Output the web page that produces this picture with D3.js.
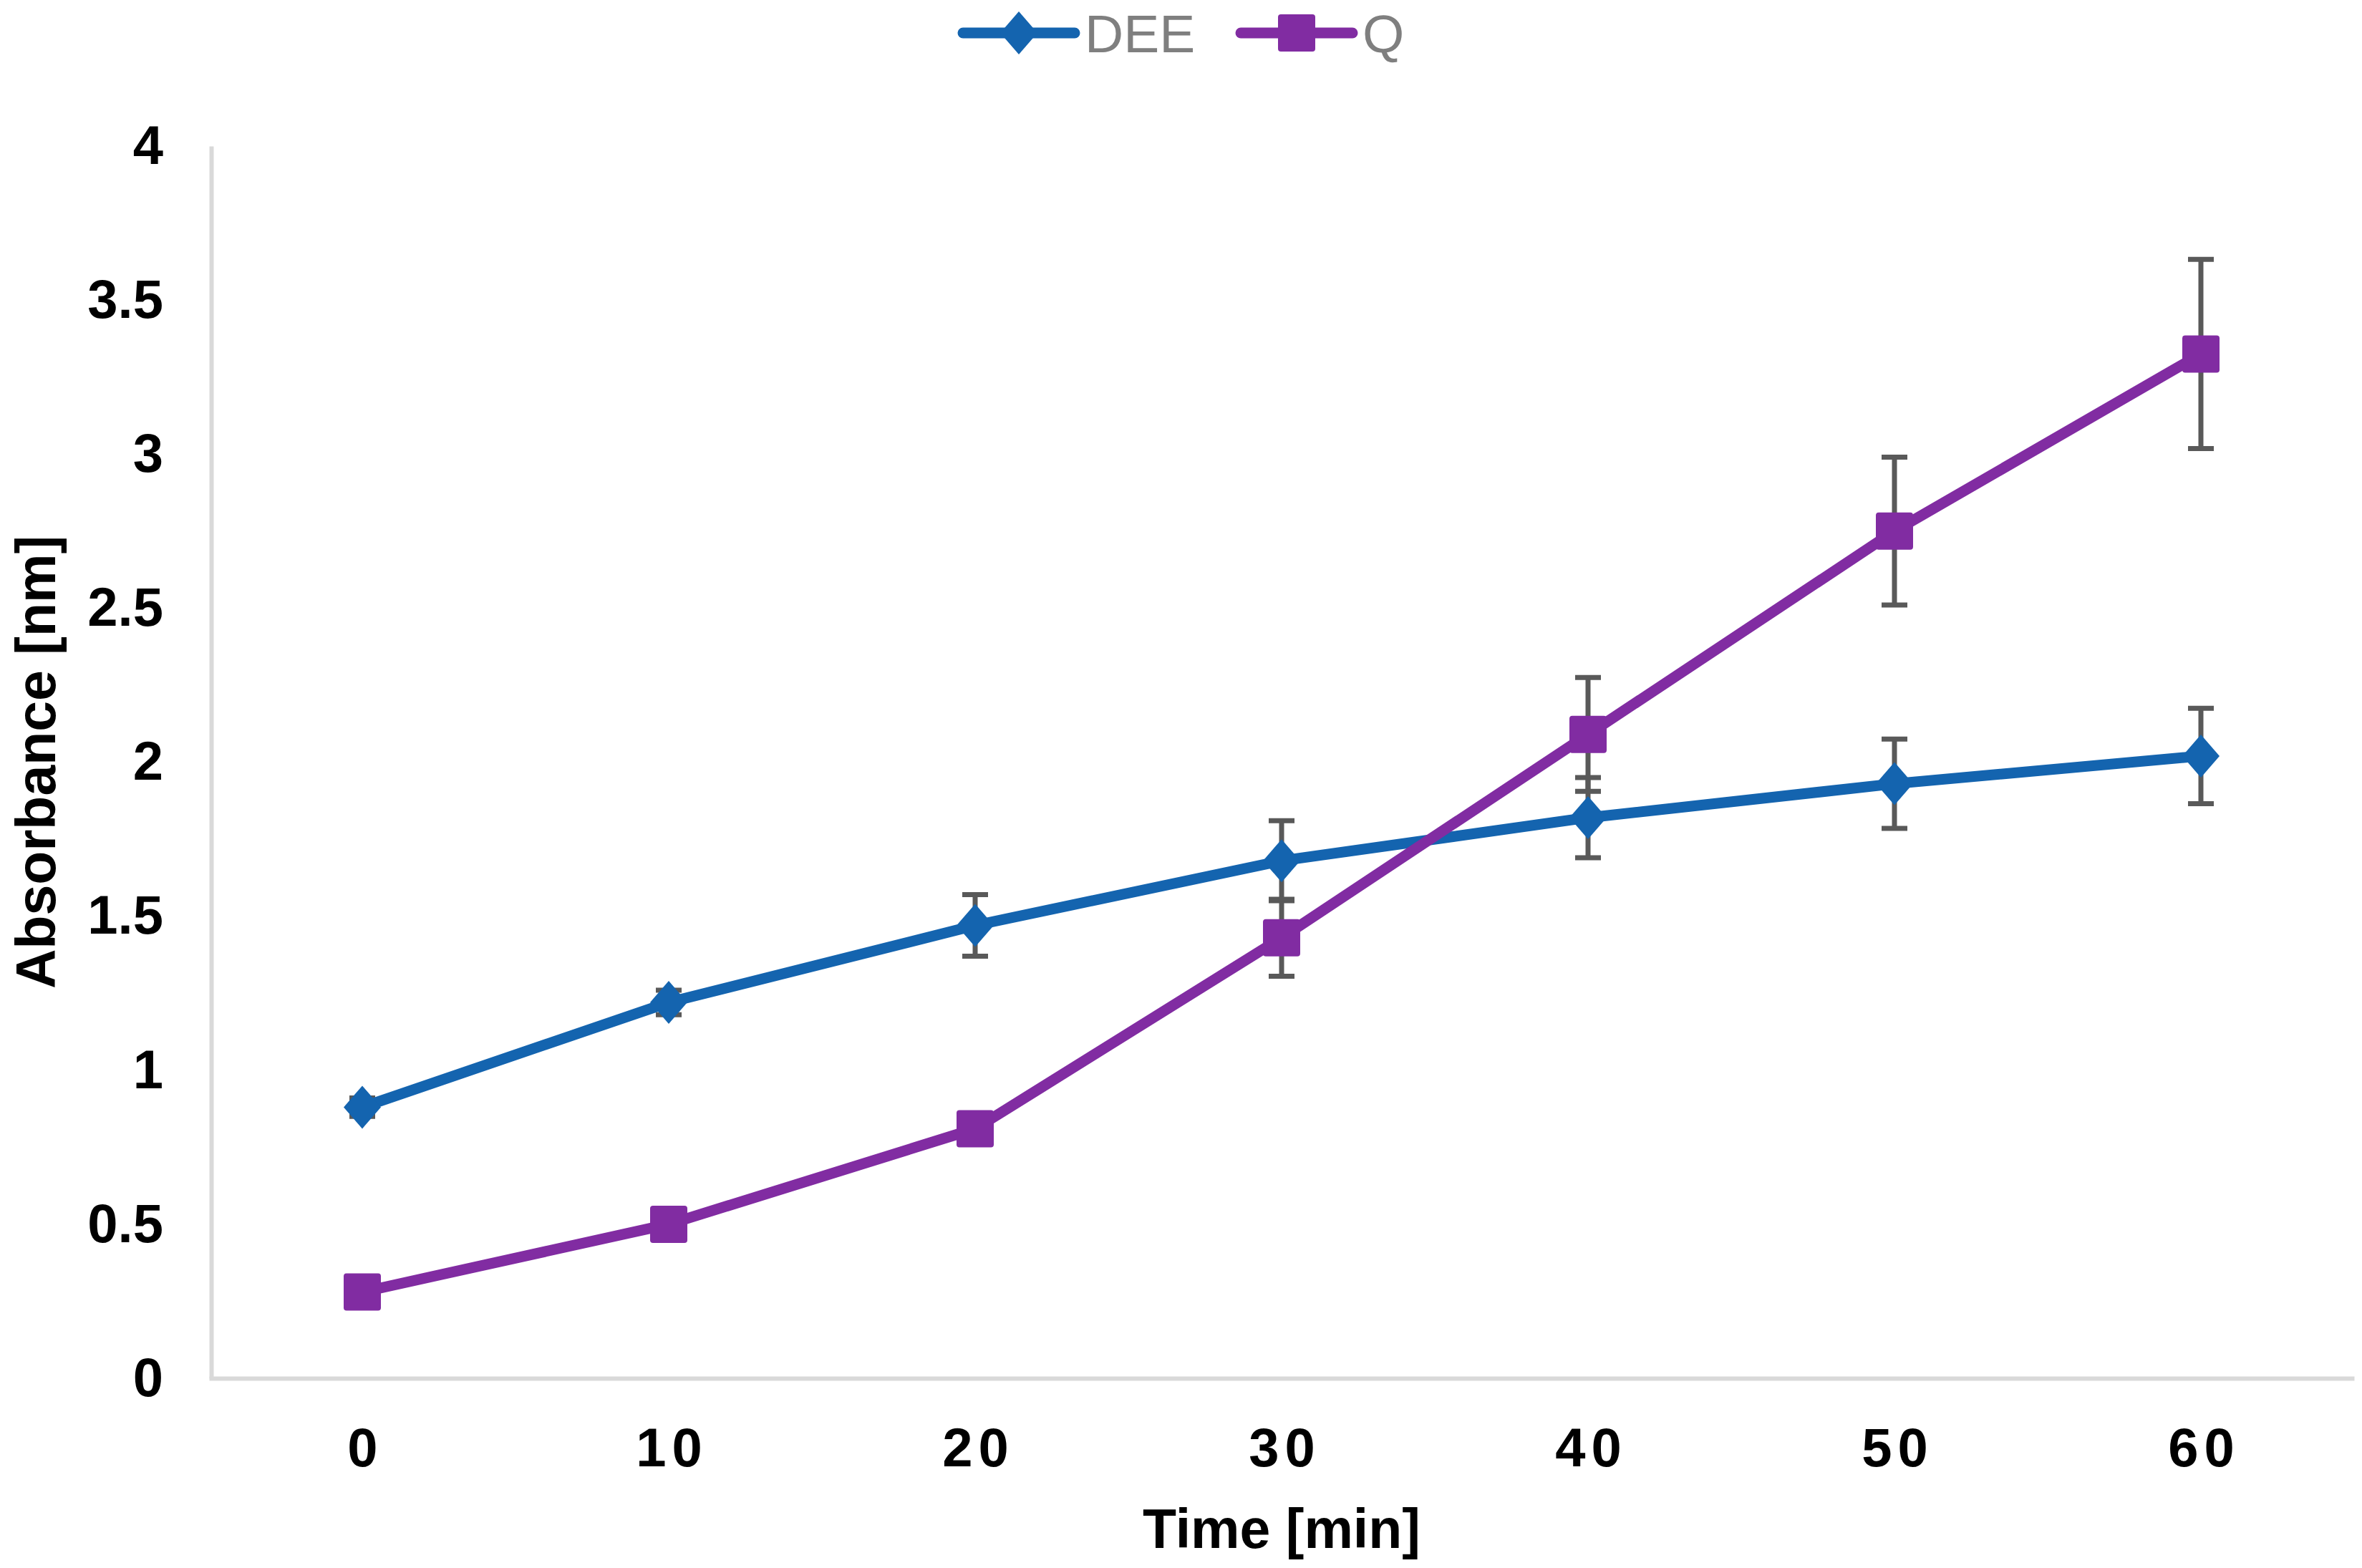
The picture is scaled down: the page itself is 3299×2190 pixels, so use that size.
<!DOCTYPE html>
<html>
<head>
<meta charset="utf-8">
<script src="https://cdn.jsdelivr.net/npm/d3@7"></script>
<style>
  body { margin: 0; background: #fff; }
  svg { display: block; font-family: "Liberation Sans", Arial, sans-serif; }
</style>
</head>
<body>
<svg class="chart" width="3299" height="2190"></svg>
<script>
let times = ["0", "10", "20", "30", "40", "50", "60"];
let yTicks = [0, 0.5, 1, 1.5, 2, 2.5, 3, 3.5, 4];

let deeValues = [0.88, 1.22, 1.47, 1.68, 1.82, 1.93, 2.02];
let deeErrors = [0.03, 0.04, 0.10, 0.13, 0.13, 0.145, 0.155];

let qValues = [0.28, 0.50, 0.81, 1.43, 2.09, 2.75, 3.325];
let qErrors = [0.02, 0.02, 0.02, 0.125, 0.185, 0.24, 0.307];

function drawLineChart(svgClass) {
  let svg = d3.select(svgClass);

  let left = 292;
  let right = 3288;
  let top = 204;
  let bottom = 1925;

  let series = [
    { name: "DEE", values: deeValues, errors: deeErrors, color: "#1464af", shape: "diamond" },
    { name: "Q", values: qValues, errors: qErrors, color: "#812ca2", shape: "square" }
  ];

  let xScale = d3.scalePoint()
    .domain(times)
    .range([left, right])
    .padding(0.5);

  let yScale = d3.scaleLinear()
    .domain([0, 4])
    .range([bottom, top]);

  // axes
  let xAxis = svg.append("g")
    .attr("transform", "translate(0," + bottom + ")")
    .call(d3.axisBottom(xScale).tickSize(0).tickSizeOuter(0).tickPadding(69));
  xAxis.select(".domain").attr("stroke", "#d9d9d9").attr("stroke-width", 6);
  xAxis.selectAll("text")
    .attr("font-size", 76)
    .attr("font-weight", "bold")
    .attr("fill", "#000")
    .attr("letter-spacing", 8)
    .attr("dx", 4);

  let yAxis = svg.append("g")
    .attr("transform", "translate(295,0)")
    .call(d3.axisLeft(yScale).tickValues(yTicks).tickFormat(d => String(d)).tickSize(0).tickSizeOuter(0).tickPadding(67));
  yAxis.select(".domain").attr("stroke", "#d9d9d9").attr("stroke-width", 6);
  yAxis.selectAll("text")
    .attr("font-size", 76)
    .attr("font-weight", "bold")
    .attr("fill", "#000");

  // axis titles
  svg.append("text")
    .attr("x", (left + right) / 2)
    .attr("y", 2162)
    .attr("text-anchor", "middle")
    .attr("font-size", 77)
    .attr("font-weight", "bold")
    .text("Time [min]");

  svg.append("text")
    .attr("transform", "translate(77," + ((top + bottom) / 2) + ")rotate(-90)")
    .attr("text-anchor", "middle")
    .attr("font-size", 77)
    .attr("font-weight", "bold")
    .text("Absorbance [nm]");

  // error bars
  let capHalf = 18;
  series.forEach(s => {
    let g = svg.append("g").attr("stroke", "#595959").attr("stroke-width", 7).attr("fill", "none");
    times.forEach((t, i) => {
      let x = xScale(t);
      let y1 = yScale(s.values[i] + s.errors[i]);
      let y2 = yScale(s.values[i] - s.errors[i]);
      g.append("line").attr("x1", x).attr("x2", x).attr("y1", y1).attr("y2", y2);
      g.append("line").attr("x1", x - capHalf).attr("x2", x + capHalf).attr("y1", y1).attr("y2", y1);
      g.append("line").attr("x1", x - capHalf).attr("x2", x + capHalf).attr("y1", y2).attr("y2", y2);
    });
  });

  let line = d3.line()
    .x((d, i) => xScale(times[i]))
    .y(d => yScale(d));

  function marker(g, shape, color) {
    if (shape === "diamond") {
      g.append("path").attr("d", "M0,-30L26,0L0,30L-26,0Z").attr("fill", color);
    } else {
      g.append("rect").attr("x", -26).attr("y", -26).attr("width", 52).attr("height", 52)
        .attr("rx", 4).attr("fill", color);
    }
  }

  // lines and markers
  series.forEach(s => {
    svg.append("path")
      .datum(s.values)
      .attr("d", line)
      .attr("fill", "none")
      .attr("stroke", s.color)
      .attr("stroke-width", 15)
      .attr("stroke-linejoin", "round")
      .attr("stroke-linecap", "round");

    svg.selectAll(null)
      .data(s.values)
      .enter()
      .append("g")
      .attr("transform", (d, i) => "translate(" + xScale(times[i]) + "," + yScale(d) + ")")
      .each(function () { marker(d3.select(this), s.shape, s.color); });
  });

  // legend
  let legendX = [1345, 1733];
  series.forEach((s, i) => {
    let g = svg.append("g").attr("transform", "translate(" + legendX[i] + ",46)");
    g.append("line")
      .attr("x1", 0).attr("x2", 156).attr("y1", 0).attr("y2", 0)
      .attr("stroke", s.color).attr("stroke-width", 15).attr("stroke-linecap", "round");
    let m = g.append("g").attr("transform", "translate(78,0)");
    marker(m, s.shape, s.color);
    g.append("text")
      .attr("x", 170)
      .attr("y", 27)
      .attr("font-size", 75)
      .attr("fill", "#7f7f7f")
      .text(s.name);
  });
}

drawLineChart(".chart");
</script>
</body>
</html>
